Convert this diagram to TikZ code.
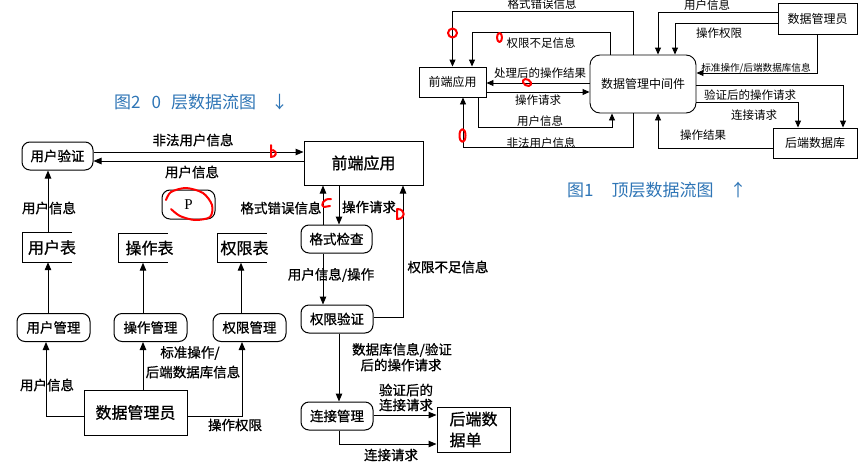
\documentclass[tikz,border=0pt]{standalone}
\usepackage{fontspec}
\setmainfont{Noto Sans CJK SC}
\newfontfamily\heavycjk[FakeBold=0.8]{Noto Sans CJK SC}
\newfontfamily\pfont{Liberation Serif}
\usetikzlibrary{arrows.meta}
\definecolor{capblue}{RGB}{46,117,182}
\begin{document}
\begin{tikzpicture}[x=1pt,y=-1pt,
  every node/.style={inner sep=0pt},
  boxA/.style={draw,line width=0.9pt,font=\fontsize{12}{13}\selectfont},
  boxB/.style={draw,line width=1pt,font=\heavycjk\fontsize{13.5}{15}\selectfont},
  bigB/.style={draw,line width=1pt,font=\heavycjk\fontsize{16}{21}\selectfont},
  rb/.style={boxB,rounded corners=8pt,minimum width=72pt,minimum height=28pt},
  arrA/.style={line width=0.9pt,-{Triangle[length=7pt,width=6pt]}},
  arrB/.style={line width=1pt,-{Triangle[length=8pt,width=6.5pt]}},
  lblA/.style={font=\fontsize{11.5}{12}\selectfont},
  lblS/.style={font=\fontsize{9.6}{10}\selectfont},
  lblB/.style={font=\heavycjk\fontsize{13.5}{17}\selectfont},
  store/.style={minimum width=49pt,minimum height=29pt},
  storetext/.style={font=\heavycjk\fontsize{16}{17}\selectfont,anchor=west},
  captxt/.style={text=capblue,font=\fontsize{17}{20}\selectfont},
  redmark/.style={red,line width=2pt,line cap=round,line join=round}]
\fill[white] (0,0) rectangle (865,469);
\useasboundingbox (0,0) rectangle (865,469);

% ---------------- top-level diagram (top right) ----------------
\node[boxA,minimum width=67pt,minimum height=30pt] (fe1) at (452.5,82) {前端应用};
\node[boxA,rounded corners=10pt,minimum width=106pt,minimum height=58pt] (mw) at (643,84) {数据管理中间件};
\node[boxA,minimum width=79pt,minimum height=31pt] (adm1) at (817.5,18.5) {数据管理员};
\node[boxA,minimum width=84pt,minimum height=30pt] (db1) at (815,143) {后端数据库};

\draw[arrA] ([xshift=-10pt]mw.north) -- ++(0,-43) -| (fe1.north);
\draw[arrA] ([xshift=-33pt]mw.north) -- ++(0,-22) -| ([xshift=19.5pt]fe1.north);
\draw[arrA] ([yshift=1pt]mw.west) -- ([yshift=-1pt]fe1.east);
\draw[arrA] ([yshift=-10pt]fe1.east) -- ([yshift=-8pt]mw.west);
\draw[arrA] ([xshift=25.5pt]fe1.south) -- ++(0,30) -| ([xshift=-31pt]mw.south);
\draw[arrA] ([xshift=-10pt]mw.south) -- ++(0,34) -| ([xshift=10.5pt]fe1.south);
\draw[arrA] ([yshift=6.5pt]adm1.west) -| ([xshift=15pt]mw.north);
\draw[arrA] ([yshift=-4.5pt]adm1.west) -| ([xshift=32pt]mw.north);
\draw[arrA] (adm1.south) |- ([yshift=11pt]mw.east);
\draw[arrA] ([yshift=-1pt]mw.east) -| ([xshift=28pt]db1.north);
\draw[arrA] ([yshift=-18pt]mw.east) -| ([xshift=-17pt]db1.north);
\draw[arrA] ([yshift=-5pt]db1.west) -| ([xshift=15pt]mw.south);

\node[lblA] (a1) at (542,4) {格式错误信息};
\node[lblA] (a2) at (541,43) {权限不足信息};
\node[lblA] (a3) at (540,73) {处理后的操作结果};
\node[lblA] (a4) at (538,100) {操作请求};
\node[lblA] (a5) at (540,121) {用户信息};
\node[lblA] (a6) at (541,143) {非法用户信息};
\node[lblA] (a7) at (707,5) {用户信息};
\node[lblA] (a8) at (719,33) {操作权限};
\node[lblS] (a9) at (756,68) {标准操作/后端数据库信息};
\node[lblA] (a10) at (750,95) {验证后的操作请求};
\node[lblA] (a11) at (754,115) {连接请求};
\node[lblA] (a12) at (703,135) {操作结果};

\node[captxt,anchor=west] (cap1) at (567,190) {图1\hspace{18pt}顶层数据流图\hspace{16pt}↑};
\node[captxt,anchor=west] (cap2) at (114,102) {图2\hspace{11pt}0\hspace{10pt}层数据流图\hspace{15pt}↓};

% ---------------- level-0 diagram (left) ----------------
\node[rb,minimum width=71pt] (uv) at (57.5,156) {用户验证};
\node[bigB,minimum width=119pt,minimum height=44pt] (fe2) at (363.5,163) {前端应用};
\node[boxB,rounded corners=8pt,minimum width=53pt,minimum height=29pt,font=\pfont\fontsize{15}{16}\selectfont] (pp) at (188.5,204.5) {P};

\node[store] (t1) at (47.5,247.5) {};
\node[store] (t2) at (143,248) {};
\node[store] (t3) at (242,248) {};
\foreach \t in {t1,t2,t3}
  \draw[line width=1pt] (\t.north east) -- (\t.north west) -- (\t.south west) -- (\t.south east);
\node[storetext] (t1x) at ([xshift=5pt]t1.west) {用户表};
\node[storetext] (t2x) at ([xshift=7pt]t2.west) {操作表};
\node[storetext] (t3x) at ([xshift=3pt]t3.west) {权限表};

\node[rb,minimum width=73pt] (um) at (53.5,327.5) {用户管理};
\node[rb,minimum width=73pt] (om) at (150.5,327.5) {操作管理};
\node[rb,minimum width=73pt] (pm) at (249.5,327.5) {权限管理};
\node[bigB,minimum width=103pt,minimum height=45pt] (adm2) at (135.5,412.5) {数据管理员};

\node[rb,minimum width=71pt] (fc) at (336.5,239) {格式检查};
\node[rb] (pv) at (337,319) {权限验证};
\node[rb] (cm) at (337,416) {连接管理};
\node[bigB,minimum width=73pt,minimum height=45pt,align=left] (db2) at (473.5,429.5) {后端数\\据单};

\draw[arrB] ([yshift=4pt]uv.east) -- ([yshift=11pt]fe2.west);
\draw[arrB] ([yshift=2pt]fe2.west) -- ([yshift=-5pt]uv.east);
\draw[arrB] ([xshift=0.5pt]t1.north) -- ([xshift=-9.5pt]uv.south);
\draw[arrB] ([xshift=-5.5pt]um.north) -- ([xshift=0.5pt]t1.south);
\draw[arrB] ([xshift=-7.5pt]om.north) -- (t2.south);
\draw[arrB] ([xshift=-8.5pt]pm.north) -- ([xshift=-1pt]t3.south);
\draw[arrB] ([yshift=-3.5pt]adm2.west) -| ([xshift=-7.5pt]um.south);
\draw[arrB] ([xshift=7.5pt]adm2.north) -- ([xshift=-7.5pt]om.south);
\draw[arrB] ([yshift=-3.5pt]adm2.east) -| ([xshift=-7.5pt]pm.south);
\draw[arrB] ([xshift=-13.5pt]fc.north) -- ([xshift=-40.5pt]fe2.south);
\draw[arrB] ([xshift=-24.5pt]fe2.south) -- ([xshift=2.5pt]fc.north);
\draw[arrB] ([xshift=-13.5pt]fc.south) -- ([xshift=-14pt]pv.north);
\draw[arrB] ([yshift=2pt]pv.east) -| ([xshift=39.5pt]fe2.south);
\draw[arrB] ([xshift=2pt]pv.south) -- ([xshift=2pt]cm.north);
\draw[arrB] ([yshift=1pt]cm.east) -- ([yshift=14.5pt]db2.west);
\draw[arrB] ([xshift=2pt]cm.south) |- ([yshift=-14.5pt]db2.west);

\node[lblB] (b1) at (193,140) {非法用户信息};
\node[lblB] (b2) at (192,172) {用户信息};
\node[lblB] (b3) at (49,208) {用户信息};
\node[lblB] (b4) at (190,353) {标准操作/};
\node[lblB] (b5) at (193,372) {后端数据库信息};
\node[lblB] (b6) at (47,385) {用户信息};
\node[lblB] (b7) at (235,425) {操作权限};
\node[lblB] (b8) at (281,208) {格式错误信息};
\node[lblB] (b9) at (369,207) {操作请求};
\node[lblB] (b10) at (331,275) {用户信息/操作};
\node[lblB] (b11) at (448,267) {权限不足信息};
\node[lblB] (b12) at (402,350) {数据库信息/验证};
\node[lblB] (b13) at (401,365) {后的操作请求};
\node[lblB] (b14) at (406,390) {验证后的};
\node[lblB] (b15) at (406,405) {连接请求};
\node[lblB] (b16) at (391,455) {连接请求};

% ---------------- red hand-drawn marks ----------------
\draw[redmark] (452.5,33) ellipse (4.5pt and 4.5pt);
\draw[redmark] (499.5,37.5) ellipse (2.5pt and 4.5pt);
\draw[redmark,rotate around={-30:(527,82.5)}] (527,82.5) ellipse (4.5pt and 3pt);
\draw[redmark] (462.5,135.5) ellipse (3pt and 6.5pt);
\draw[redmark] (271,145) -- (271,157) .. controls (276,157) and (278,152) .. (273,150);
\draw[redmark] plot[smooth] coordinates {(171,209) (180,216) (195,220) (210,217) (212,205) (203,193) (186,188) (171,192) (166,200)};
\draw[redmark] (331,199) .. controls (323,198) and (320,206) .. (324,207) -- (330,206);
\draw[redmark] (397,209) -- (397,219) .. controls (406,219) and (406,209) .. (397,209);
\end{tikzpicture}
\end{document}
